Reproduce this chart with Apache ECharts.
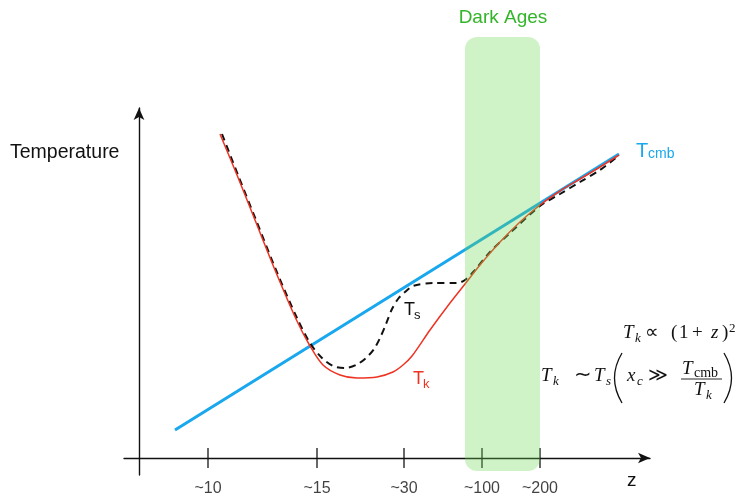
<!DOCTYPE html>
<html><head><meta charset="utf-8">
<script src="https://cdn.jsdelivr.net/npm/echarts@6/dist/echarts.min.js"></script>
<style>html,body{margin:0;padding:0;background:#fff}#c{width:738px;height:496px}</style>
</head><body><div id="c"></div>
<script>
// ---- data (schematic units) ----
const tickValues = [69, 178, 265, 343, 401];
const tickLabels = ['~10', '~15', '~30', '~100', '~200'];
const tcmbX = [36, 480];
const tcmbY = [28, 304];
const tkX = [81, 98, 116, 136, 157, 171, 184, 201, 218, 238, 254, 264, 273, 291, 311, 326, 341, 361, 381, 401, 421, 441, 461, 480];
const tkY = [324, 283, 238, 188, 139, 112, 93, 83, 80, 81, 86, 93, 102, 128, 155, 174, 193, 216, 236, 253, 267, 279, 291, 303];
const tsX = [83, 99, 117, 137, 158, 171, 183, 194, 206, 217, 227, 235, 241, 247, 253, 259, 266, 274, 294, 318, 326, 335, 351, 371, 401, 421, 441, 461, 478];
const tsY = [324, 283, 238, 188, 140, 115, 100, 92, 90, 93, 100, 109, 120, 134, 149, 159, 166, 172, 175, 175, 178, 187, 206, 225, 252, 264, 276, 288, 301];
const darkAgesX = [326, 401];
const darkAgesY = [-13, 421];

const zip = (xs, ys) => xs.map((x, i) => [x, ys[i]]);
const SANS = 'Liberation Sans, Arial, Helvetica, sans-serif';
const SERIF = 'Liberation Serif, Times New Roman, serif';

function txt(x, base, text, size, opt) {
  opt = opt || {};
  const family = opt.family || SANS;
  const style = opt.italic ? 'italic ' : '';
  return {
    type: 'text', z: 100,
    style: {
      x: x, y: base - 0.32 * size, text: text,
      font: style + size + 'px ' + family,
      fill: opt.color || '#111',
      align: opt.align || 'left', textAlign: opt.align || 'left',
      verticalAlign: 'middle', textVerticalAlign: 'middle'
    }
  };
}

const BLUE = '#19a7ee';
const RED = '#ee3322';
const GREEN_TXT = '#33b52a';
const M = 19, S = 13;

const graphics = [
  txt(10, 159, 'Temperature', 19.5),
  txt(503, 24, 'Dark Ages', 19, {align: 'center', color: GREEN_TXT}),
  txt(627, 487, 'z', 19),
  // Tcmb label
  txt(636, 158, 'T', 20, {color: BLUE}),
  txt(648, 159, 'cmb', 14, {color: BLUE}),
  // Ts label
  txt(404, 316, 'T', 18),
  txt(414, 320, 's', 13),
  // Tk label
  txt(413, 385, 'T', 18, {color: RED}),
  txt(423, 389, 'k', 13, {color: RED}),
  // formula 1
  txt(623, 339, 'T', M, {family: SERIF, italic: true}),
  txt(635, 343, 'k', S, {family: SERIF, italic: true}),
  txt(645, 339, '∝', M, {family: SERIF}),
  txt(671, 339, '(', M, {family: SERIF}),
  txt(679, 339, '1', M, {family: SERIF}),
  txt(692, 339, '+', M, {family: SERIF}),
  txt(711, 339, 'z', M, {family: SERIF, italic: true}),
  txt(722, 339, ')', M, {family: SERIF}),
  txt(729, 333, '2', S, {family: SERIF}),
  // formula 2
  txt(541, 382, 'T', M, {family: SERIF, italic: true}),
  txt(553, 386, 'k', S, {family: SERIF, italic: true}),
  txt(574, 382, '∼', 21, {family: SERIF}),
  txt(594, 382, 'T', M, {family: SERIF, italic: true}),
  txt(606, 386, 's', S, {family: SERIF, italic: true}),
  txt(627, 382, 'x', M, {family: SERIF, italic: true}),
  txt(637, 386, 'c', S, {family: SERIF, italic: true}),
  txt(648, 382, '≫', M, {family: SERIF}),
  txt(682, 375, 'T', M, {family: SERIF, italic: true}),
  txt(694, 378, 'cmb', 14, {family: SERIF}),
  txt(694, 396, 'T', M, {family: SERIF, italic: true}),
  txt(706, 400, 'k', S, {family: SERIF, italic: true}),
  {type: 'line', z: 100, shape: {x1: 681, y1: 379, x2: 722, y2: 379}, style: {stroke: '#111', lineWidth: 0.9}},
  {type: 'bezierCurve', z: 100, shape: {x1: 622, y1: 353, x2: 622, y2: 403, cpx1: 607, cpy1: 378}, style: {stroke: '#111', lineWidth: 1.3, fill: 'none'}},
  {type: 'bezierCurve', z: 100, shape: {x1: 724, y1: 353, x2: 724, y2: 403, cpx1: 739, cpy1: 378}, style: {stroke: '#111', lineWidth: 1.3, fill: 'none'}}
];

const chart = echarts.init(document.getElementById('c'), null, {renderer: 'canvas'});
chart.setOption({
  animation: false,
  backgroundColor: '#fff',
  grid: {left: 124, right: 88, top: 108, bottom: 21, containLabel: false},
  xAxis: {
    type: 'value', min: -15, max: 511,
    axisLine: {onZero: true, lineStyle: {color: '#111', width: 1.4}, symbol: ['none', 'arrow'], symbolSize: [8, 12]},
    axisTick: {show: false}, axisLabel: {show: false}, splitLine: {show: false}
  },
  yAxis: {
    type: 'value', min: -17, max: 350,
    axisLine: {show: true, onZero: true, lineStyle: {color: '#111', width: 1.4}, symbol: ['none', 'arrow'], symbolSize: [8, 12]},
    axisTick: {show: false}, axisLabel: {show: false}, splitLine: {show: false}
  },
  series: [
    {type: 'line', data: zip(tcmbX, tcmbY), symbol: 'none', lineStyle: {color: BLUE, width: 3}, z: 3},
    {type: 'line', data: zip(tsX, tsY), symbol: 'none', smooth: 0.3, lineStyle: {color: '#111', width: 2, type: [7, 5]}, z: 4},
    {type: 'line', data: zip(tkX, tkY), symbol: 'none', smooth: 0.3, lineStyle: {color: RED, width: 1.5}, z: 5},
    {type: 'scatter', data: tickValues.map(v => [v, 0]), symbol: 'rect', symbolSize: [1.6, 20],
      itemStyle: {color: '#111'}, z: 6, silent: true,
      label: {show: true, position: 'bottom', distance: 13, color: '#111', fontSize: 16, fontFamily: SANS,
        formatter: p => tickLabels[p.dataIndex]}},
    {type: 'custom', z: 10, clip: false, silent: true, data: [[0]],
      renderItem: function (params, api) {
        const p1 = api.coord([darkAgesX[0], darkAgesY[1]]);
        const p2 = api.coord([darkAgesX[1], darkAgesY[0]]);
        return {type: 'rect', shape: {x: p1[0], y: p1[1], width: p2[0] - p1[0], height: p2[1] - p1[1], r: 12},
          style: {fill: 'rgba(110,215,80,0.32)'}};
      }}
  ],
  graphic: graphics
});
</script>
</body></html>
